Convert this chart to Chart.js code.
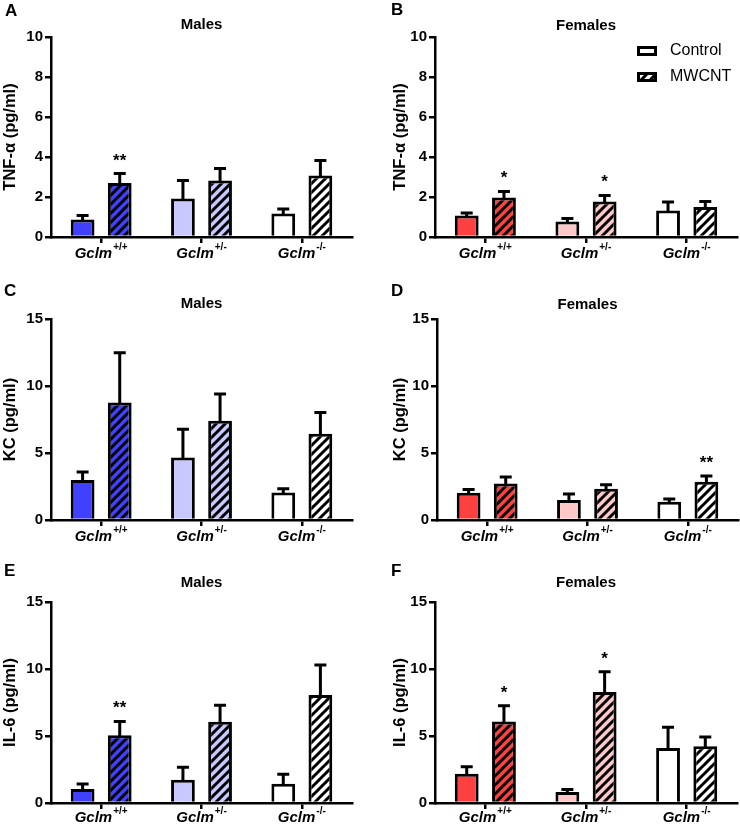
<!DOCTYPE html>
<html><head><meta charset="utf-8">
<script src="https://cdn.jsdelivr.net/npm/chart.js@4.4.1/dist/chart.umd.min.js"></script>
<style>
html,body{margin:0;padding:0;background:#fff;}
#wrap{position:relative;width:740px;height:826px;overflow:hidden;}
.p{position:absolute;}
</style></head><body>
<div id="wrap">
<div class="p" style="left:0;top:0;width:370px;height:278px"><canvas id="cA"></canvas></div>
<div class="p" style="left:370px;top:0;width:370px;height:278px"><canvas id="cB"></canvas></div>
<div class="p" style="left:0;top:280px;width:370px;height:270px"><canvas id="cC"></canvas></div>
<div class="p" style="left:370px;top:280px;width:370px;height:270px"><canvas id="cD"></canvas></div>
<div class="p" style="left:0;top:550px;width:370px;height:276px"><canvas id="cE"></canvas></div>
<div class="p" style="left:370px;top:550px;width:370px;height:276px"><canvas id="cF"></canvas></div>
</div>
<script>
// ---- data ----
const genotypes = ['+/+', '+/-', '-/-'];
const seriesNames = ['Control', 'MWCNT'];

const tnfMaleCtrl = [0.87, 1.93, 1.18];
const tnfMaleCtrlSem = [0.20, 0.89, 0.22];
const tnfMaleMw = [2.70, 2.82, 3.08];
const tnfMaleMwSem = [0.47, 0.61, 0.74];
const tnfMaleStars = ['**', '', ''];

const tnfFemaleCtrl = [1.07, 0.77, 1.32];
const tnfFemaleCtrlSem = [0.13, 0.15, 0.43];
const tnfFemaleMw = [1.98, 1.77, 1.50];
const tnfFemaleMwSem = [0.30, 0.31, 0.27];
const tnfFemaleStars = ['*', '*', ''];

const kcMaleCtrl = [2.98, 4.67, 2.06];
const kcMaleCtrlSem = [0.60, 2.11, 0.27];
const kcMaleMw = [8.77, 7.40, 6.43];
const kcMaleMwSem = [3.72, 2.01, 1.59];
const kcMaleStars = ['', '', ''];

const kcFemaleCtrl = [2.04, 1.49, 1.37];
const kcFemaleCtrlSem = [0.24, 0.45, 0.19];
const kcFemaleMw = [2.73, 2.33, 2.86];
const kcFemaleMwSem = [0.47, 0.30, 0.42];
const kcFemaleStars = ['', '', '**'];

const il6MaleCtrl = [1.04, 1.74, 1.44];
const il6MaleCtrlSem = [0.38, 0.92, 0.70];
const il6MaleMw = [5.05, 6.07, 8.06];
const il6MaleMwSem = [1.04, 1.22, 2.24];
const il6MaleStars = ['**', '', ''];

const il6FemaleCtrl = [2.19, 0.82, 4.10];
const il6FemaleCtrlSem = [0.52, 0.18, 1.55];
const il6FemaleMw = [6.09, 8.28, 4.23];
const il6FemaleMwSem = [1.17, 1.52, 0.70];
const il6FemaleStars = ['*', '*', ''];

const tnfTicks = {max: 10, step: 2};
const otherTicks = {max: 15, step: 5};

const maleColors = ['#4040FF', '#C8C8FF', '#FFFFFF'];
const femaleColors = ['#FF4040', '#FFC8C8', '#FFFFFF'];

// ---- rendering ----
const FAM = 'Arial, "Liberation Sans", Helvetica, sans-serif';

function hatch(color) {
  const s = 9;
  const c = document.createElement('canvas');
  c.width = s; c.height = s;
  const x = c.getContext('2d');
  x.fillStyle = color; x.fillRect(0, 0, s, s);
  x.strokeStyle = '#000'; x.lineWidth = 3;
  x.beginPath();
  for (const k of [-s, 0, s]) { x.moveTo(k - 1, s + 1); x.lineTo(k + s + 1, -1); }
  x.stroke();
  return x.createPattern(c, 'repeat');
}

const deco = {
  id: 'deco',
  afterDatasetsDraw(chart, args, o) {
    const ctx = chart.ctx, ys = chart.scales.y;
    ctx.save();
    ctx.strokeStyle = '#000'; ctx.lineWidth = 3; ctx.lineCap = 'butt';
    chart.data.datasets.forEach((ds, di) => {
      const meta = chart.getDatasetMeta(di);
      meta.data.forEach((el, i) => {
        const top = ys.getPixelForValue(ds.data[i] + ds.sem[i]);
        ctx.beginPath();
        ctx.moveTo(el.x, el.y + 1); ctx.lineTo(el.x, top);
        ctx.moveTo(el.x - 6, top); ctx.lineTo(el.x + 6, top);
        ctx.stroke();
        const st = ds.stars ? ds.stars[i] : '';
        if (st) {
          ctx.fillStyle = '#000';
          ctx.font = 'bold 17px ' + FAM;
          ctx.textAlign = 'center'; ctx.textBaseline = 'alphabetic';
          ctx.fillText(st, el.x, top - 8);
        }
      });
    });
    ctx.restore();
  },
  afterDraw(chart, args, o) {
    const ctx = chart.ctx, xs = chart.scales.x, ca = chart.chartArea;
    ctx.save();
    ctx.fillStyle = '#000';
    // x category labels
    genotypes.forEach((g, i) => {
      const cx = xs.getPixelForValue(i);
      ctx.font = 'italic bold 15px ' + FAM;
      const w1 = ctx.measureText('Gclm').width;
      ctx.font = 'bold 10px ' + FAM;
      const w2 = ctx.measureText(g).width;
      const x0 = cx - (w1 + w2 + 1) / 2;
      const by = ca.bottom + o.labelDy;
      ctx.textAlign = 'left'; ctx.textBaseline = 'alphabetic';
      ctx.font = 'italic bold 15px ' + FAM;
      ctx.fillText('Gclm', x0, by);
      ctx.font = 'bold 10px ' + FAM;
      ctx.fillText(g, x0 + w1 + 1, by - 8);
    });
    // title
    ctx.font = 'bold 15px ' + FAM;
    ctx.textAlign = 'center'; ctx.textBaseline = 'alphabetic';
    ctx.fillText(o.title, (ca.left + ca.right) / 2, ca.top + o.titleDy);
    // panel letter
    ctx.font = 'bold 17px ' + FAM;
    ctx.textAlign = 'left';
    ctx.fillText(o.letter, o.letterX, o.letterY);
    // legend
    if (o.legend) {
      const items = [{fill: '#FFFFFF', y: 51}, {fill: hatch('#FFFFFF'), y: 77}];
      items.forEach((it, k) => {
        ctx.fillStyle = it.fill;
        ctx.fillRect(267, it.y - 5, 20, 10);
        ctx.strokeStyle = '#000'; ctx.lineWidth = 3;
        ctx.strokeRect(268.5, it.y - 3.5, 17, 7);
        ctx.fillStyle = '#000';
        ctx.font = '16px ' + FAM;
        ctx.textBaseline = 'middle';
        ctx.fillText(seriesNames[k], 300, it.y);
      });
    }
    ctx.restore();
  }
};

function makeChart(id, p) {
  new Chart(document.getElementById(id), {
    type: 'bar',
    data: {
      labels: genotypes,
      datasets: [
        {label: seriesNames[0], data: p.ctrl, sem: p.ctrlSem, backgroundColor: p.colors,
         borderColor: '#000', borderWidth: 3, borderSkipped: 'start',
         categoryPercentage: 0.74, barPercentage: 0.64},
        {label: seriesNames[1], data: p.mw, sem: p.mwSem, stars: p.stars, backgroundColor: p.colors.map(hatch),
         borderColor: '#000', borderWidth: 3, borderSkipped: 'start',
         categoryPercentage: 0.74, barPercentage: 0.64}
      ]
    },
    options: {
      responsive: true, maintainAspectRatio: false, animation: false,
      layout: {padding: p.pad},
      plugins: {
        legend: {display: false}, tooltip: {enabled: false}, title: {display: false},
        deco: {title: p.title, titleDy: p.titleDy, letter: p.letter, letterX: p.letterX, letterY: p.letterY,
               legend: p.legend, labelDy: p.labelDy}
      },
      scales: {
        x: {
          offset: true,
          grid: {display: true, drawOnChartArea: false, drawTicks: true, tickLength: 6, offset: false, color: '#000', lineWidth: 2.5},
          border: {display: true, color: '#000', width: 2.5},
          ticks: {display: false},
          afterFit(s) { s.height = p.xHeight; }
        },
        y: {
          min: 0, max: p.ticks.max,
          ticks: {stepSize: p.ticks.step, color: '#000', font: {family: FAM, weight: 'bold', size: 15}, padding: 2},
          grid: {drawOnChartArea: false, drawTicks: true, tickLength: 6, color: '#000', lineWidth: 2.5},
          border: {display: true, color: '#000', width: 2.5},
          title: {display: true, text: p.ytitle, color: '#000', font: {family: FAM, weight: 'bold', size: 16.5}, padding: {top: 1, bottom: 0}},
          afterFit(s) { s.width = p.yWidth; }
        }
      }
    },
    plugins: [deco]
  });
}

makeChart('cA', {ctrl: tnfMaleCtrl, ctrlSem: tnfMaleCtrlSem, mw: tnfMaleMw, mwSem: tnfMaleMwSem, stars: tnfMaleStars,
  colors: maleColors, ticks: tnfTicks, ytitle: 'TNF-α (pg/ml)', title: 'Males', titleDy: -8,
  letter: 'A', letterX: 5, letterY: 16, pad: {left: 0, top: 37, right: 18, bottom: 0}, yWidth: 51, xHeight: 41, labelDy: 21});
makeChart('cB', {ctrl: tnfFemaleCtrl, ctrlSem: tnfFemaleCtrlSem, mw: tnfFemaleMw, mwSem: tnfFemaleMwSem, stars: tnfFemaleStars,
  colors: femaleColors, ticks: tnfTicks, ytitle: 'TNF-α (pg/ml)', title: 'Females', titleDy: -7, legend: true,
  letter: 'B', letterX: 21, letterY: 15, pad: {left: 20, top: 37, right: 3, bottom: 0}, yWidth: 45, xHeight: 41, labelDy: 21});
makeChart('cC', {ctrl: kcMaleCtrl, ctrlSem: kcMaleCtrlSem, mw: kcMaleMw, mwSem: kcMaleMwSem, stars: kcMaleStars,
  colors: maleColors, ticks: otherTicks, ytitle: 'KC (pg/ml)', title: 'Males', titleDy: -11,
  letter: 'C', letterX: 4, letterY: 16, pad: {left: 0, top: 39, right: 18, bottom: 0}, yWidth: 51, xHeight: 30, labelDy: 21});
makeChart('cD', {ctrl: kcFemaleCtrl, ctrlSem: kcFemaleCtrlSem, mw: kcFemaleMw, mwSem: kcFemaleMwSem, stars: kcFemaleStars,
  colors: femaleColors, ticks: otherTicks, ytitle: 'KC (pg/ml)', title: 'Females', titleDy: -10,
  letter: 'D', letterX: 21, letterY: 16, pad: {left: 20, top: 39, right: 2, bottom: 0}, yWidth: 47, xHeight: 30, labelDy: 21});
makeChart('cE', {ctrl: il6MaleCtrl, ctrlSem: il6MaleCtrlSem, mw: il6MaleMw, mwSem: il6MaleMwSem, stars: il6MaleStars,
  colors: maleColors, ticks: otherTicks, ytitle: 'IL-6 (pg/ml)', title: 'Males', titleDy: -15,
  letter: 'E', letterX: 4, letterY: 26, pad: {left: 0, top: 52, right: 18, bottom: 0}, yWidth: 51, xHeight: 23, labelDy: 19});
makeChart('cF', {ctrl: il6FemaleCtrl, ctrlSem: il6FemaleCtrlSem, mw: il6FemaleMw, mwSem: il6FemaleMwSem, stars: il6FemaleStars,
  colors: femaleColors, ticks: otherTicks, ytitle: 'IL-6 (pg/ml)', title: 'Females', titleDy: -15,
  letter: 'F', letterX: 21, letterY: 26, pad: {left: 20, top: 52, right: 3, bottom: 0}, yWidth: 45, xHeight: 23, labelDy: 19});
</script>
</body></html>
